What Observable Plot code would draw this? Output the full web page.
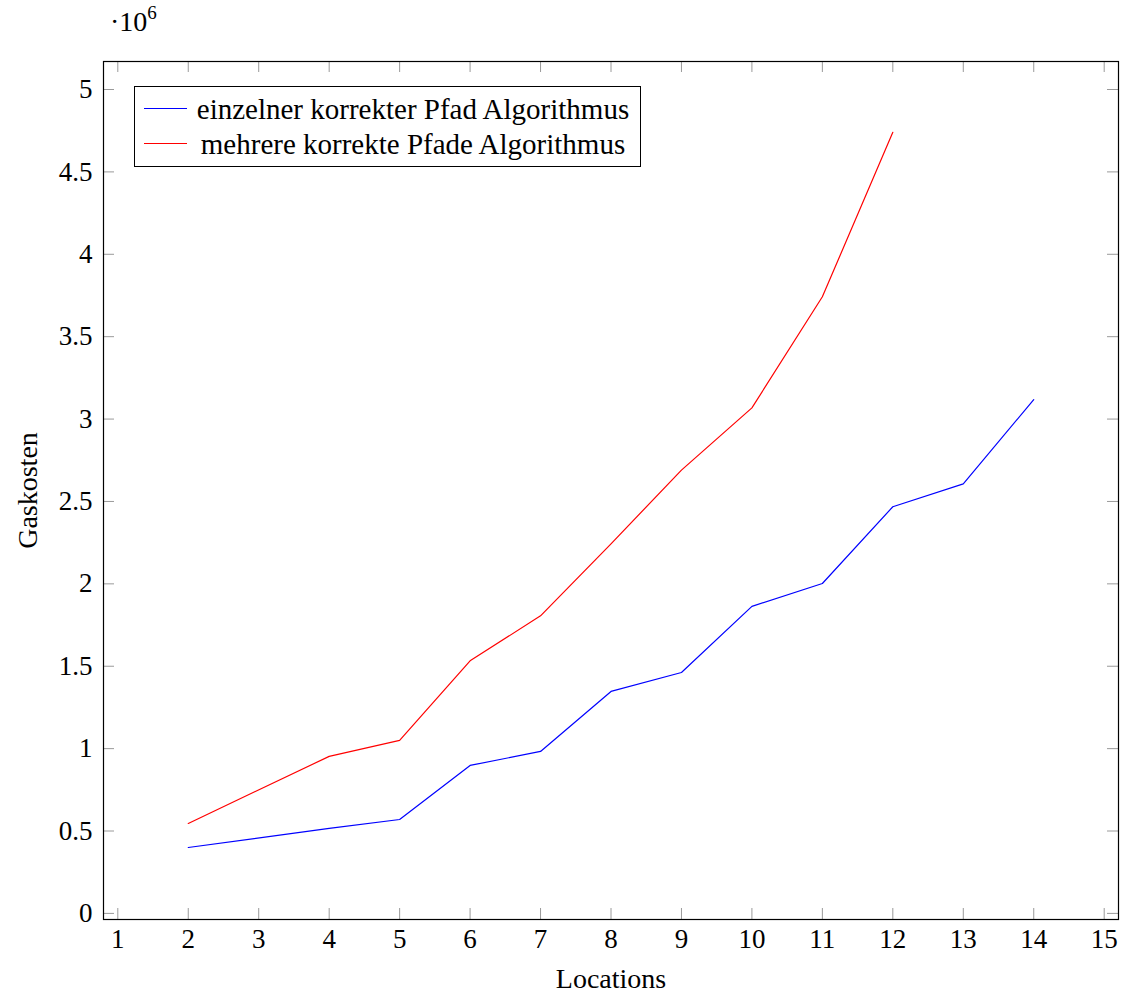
<!DOCTYPE html>
<html>
<head>
<meta charset="utf-8">
<script src="https://cdn.jsdelivr.net/npm/d3@7"></script>
<script src="https://cdn.jsdelivr.net/npm/@observablehq/plot@0.6"></script>
<style>
  body { margin: 0; background: #fff; }
  #wrap { position: relative; width: 1126px; height: 993px; font-family: "Liberation Serif", serif; }
  #legend { position: absolute; left: 134px; top: 86px; width: 505px; height: 79px; border: 1px solid #000; background: #fff; }
  .row { position: absolute; left: 0; height: 34px; width: 505px; }
  .sw { position: absolute; left: 9px; top: 16px; width: 43px; height: 0; border-top: 1.3px solid; }
  .lt { position: absolute; left: 58px; width: 440px; top: 0; line-height: 34px; font-size: 29px; text-align: center; color: #000; white-space: nowrap; font-family: "Liberation Serif", serif; }
  #mult { position: absolute; left: 110px; top: 4px; font-size: 28px; color: #000; font-family: "Liberation Serif", serif; }
  #mult sup { font-size: 19px; position: relative; top: -2px; }
</style>
</head>
<body>
<div id="wrap">
  <div id="chart"></div>
  <div id="mult">·10<sup>6</sup></div>
  <div id="legend"></div>
</div>
<script>
// x: number of locations; y: gas costs in units of 10^6
const locationsSingle = [2, 4, 5, 6, 7, 8, 9, 10, 11, 12, 13, 14];
const gasSingle = [0.40, 0.516, 0.570, 0.898, 0.983, 1.347, 1.462, 1.863, 2.002, 2.468, 2.607, 3.118];
const locationsMulti = [2, 4, 5, 6, 7, 8, 9, 10, 11, 12];
const gasMulti = [0.546, 0.953, 1.050, 1.533, 1.806, 2.243, 2.690, 3.068, 3.742, 4.740];
const seriesNames = ["einzelner korrekter Pfad Algorithmus", "mehrere korrekte Pfade Algorithmus"];
const seriesColors = ["#0000ff", "#ff0000"];
const xTicks = [1, 2, 3, 4, 5, 6, 7, 8, 9, 10, 11, 12, 13, 14, 15];
const yTicks = [0, 0.5, 1, 1.5, 2, 2.5, 3, 3.5, 4, 4.5, 5];
const xLabel = "Locations";
const yLabel = "Gaskosten";

const W = 1126, H = 993;
const mL = 103, mR = 8, mT = 61, mB = 74;
const innerW = W - mL - mR, innerH = H - mT - mB;
const tickLen = 11;
const serif = "Liberation Serif";

const single = locationsSingle.map((x, i) => ({x, y: gasSingle[i]}));
const multi = locationsMulti.map((x, i) => ({x, y: gasMulti[i]}));

const chart = Plot.plot({
  width: W, height: H,
  marginLeft: mL, marginRight: mR, marginTop: mT, marginBottom: mB,
  style: {fontFamily: serif, background: "#fff", color: "#000"},
  x: {domain: [0.797, 15.203]},
  y: {domain: [-0.037, 5.17]},
  marks: [
    Plot.ruleX(xTicks, {x: d => d, stroke: "#9a9a9a", strokeWidth: 1, insetTop: innerH - tickLen}),
    Plot.ruleX(xTicks, {x: d => d, stroke: "#9a9a9a", strokeWidth: 1, insetBottom: innerH - tickLen}),
    Plot.ruleY(yTicks, {y: d => d, stroke: "#9a9a9a", strokeWidth: 1, insetRight: innerW - tickLen}),
    Plot.ruleY(yTicks, {y: d => d, stroke: "#9a9a9a", strokeWidth: 1, insetLeft: innerW - tickLen}),
    Plot.line(single, {x: "x", y: "y", stroke: seriesColors[0], strokeWidth: 1.2}),
    Plot.line(multi, {x: "x", y: "y", stroke: seriesColors[1], strokeWidth: 1.2}),
    Plot.frame({stroke: "#000", strokeWidth: 1.2}),
    Plot.axisX({ticks: xTicks, tickSize: 0, tickPadding: 9, fontSize: 27, fontFamily: serif, fontVariant: "normal", tickFormat: d => String(d), label: null}),
    Plot.axisY({ticks: yTicks, tickSize: 0, tickPadding: 11, fontSize: 27, fontFamily: serif, fontVariant: "normal", tickFormat: d => String(d), label: null}),
    Plot.text([xLabel], {frameAnchor: "bottom", text: d => d, dy: 60, fontSize: 28, fontFamily: serif, lineAnchor: "middle"}),
    Plot.text([yLabel], {frameAnchor: "left", text: d => d, dx: -75, rotate: -90, fontSize: 28, fontFamily: serif, lineAnchor: "middle", textAnchor: "middle"})
  ]
});
document.getElementById("chart").appendChild(chart);

const legend = document.getElementById("legend");
seriesNames.forEach((name, i) => {
  const row = document.createElement("div");
  row.className = "row";
  row.style.top = (5 + i * 35) + "px";
  const sw = document.createElement("div");
  sw.className = "sw";
  sw.style.borderTopColor = seriesColors[i];
  const t = document.createElement("div");
  t.className = "lt";
  t.textContent = name;
  row.appendChild(sw);
  row.appendChild(t);
  legend.appendChild(row);
});
</script>
</body>
</html>
